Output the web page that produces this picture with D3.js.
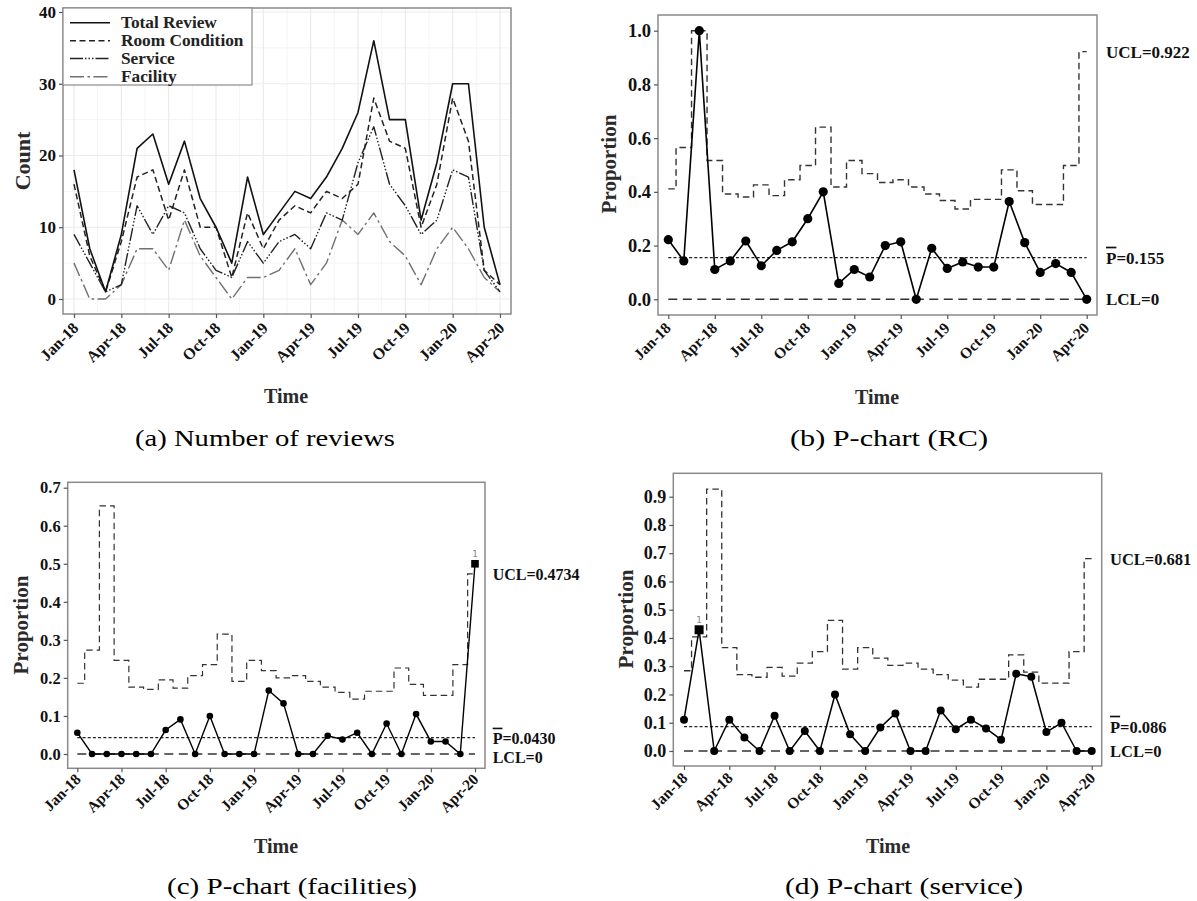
<!DOCTYPE html>
<html>
<head>
<meta charset="utf-8">
<script src="https://cdn.jsdelivr.net/npm/d3@7"></script>
<style>
  body { margin: 0; background: #fff; }
  svg { display: block; }
</style>
</head>
<body>
<svg id="fig" width="1197" height="901"></svg>
<script>
// ---------- data ----------
const months = ["Jan-18","Feb-18","Mar-18","Apr-18","May-18","Jun-18","Jul-18","Aug-18","Sep-18","Oct-18","Nov-18","Dec-18",
                "Jan-19","Feb-19","Mar-19","Apr-19","May-19","Jun-19","Jul-19","Aug-19","Sep-19","Oct-19","Nov-19","Dec-19",
                "Jan-20","Feb-20","Mar-20","Apr-20"];
const tickLabels = ["Jan-18","Apr-18","Jul-18","Oct-18","Jan-19","Apr-19","Jul-19","Oct-19","Jan-20","Apr-20"];

// monthly review counts
const totalReview   = [18,7,1,9,21,23,16,22,14,10,5,17,9,12,15,14,17,21,26,36,25,25,11,19,30,30,10,2];
const roomCondition = [16,6,1,8,17,18,11,18,10,10,3,12,7,11,13,12,15,14,16,28,22,21,10,16,28,22,4,2];
const serviceCount  = [9,5,1,2,13,9,13,12,7,4,3,8,5,8,9,7,12,11,19,24,16,13,9,11,18,17,4,1];
const facilityCount = [5,0,0,2,7,7,4,11,6,3,0,3,3,4,7,2,5,11,9,12,8,6,2,7,10,7,3,1];

// P-chart: room condition
const rcP   = [0.222,0.143,1.000,0.111,0.143,0.217,0.125,0.182,0.214,0.300,0.400,0.059,0.111,0.083,0.200,0.214,0.000,0.190,0.115,0.139,0.120,0.120,0.364,0.211,0.100,0.133,0.100,0.000];
const rcUCL = [0.411,0.565,1.000,0.517,0.392,0.381,0.426,0.386,0.445,0.498,0.641,0.418,0.517,0.468,0.435,0.445,0.418,0.392,0.368,0.336,0.372,0.372,0.482,0.404,0.353,0.353,0.498,0.922];
const rcCenter = 0.155;

// P-chart: facilities
const facP   = [0.056,0,0,0,0,0,0.063,0.091,0,0.100,0,0,0,0.167,0.133,0,0,0.048,0.038,0.056,0,0.080,0,0.105,0.033,0.033,0,0.500];
const facUCL = [0.186,0.273,0.652,0.246,0.176,0.170,0.195,0.173,0.206,0.235,0.315,0.191,0.246,0.219,0.200,0.206,0.191,0.176,0.162,0.144,0.165,0.165,0.226,0.183,0.154,0.154,0.235,0.4734];
const facCenter = 0.0430;

// P-chart: service
const svcP   = [0.111,0.429,0,0.111,0.048,0,0.125,0,0.071,0,0.200,0.059,0,0.083,0.133,0,0,0.143,0.077,0.111,0.080,0.040,0.273,0.263,0.067,0.100,0,0];
const svcUCL = [0.284,0.404,0.927,0.366,0.270,0.261,0.296,0.265,0.311,0.352,0.462,0.290,0.366,0.329,0.303,0.311,0.290,0.270,0.251,0.226,0.254,0.254,0.340,0.279,0.240,0.240,0.352,0.681];
const svcCenter = 0.086;

const tickIndex = tickLabels.map(t => months.indexOf(t));

// ---------- drawing ----------
const SERIF = `"Liberation Serif", "Times New Roman", serif`;
const svg = d3.select("#fig").attr("font-family", SERIF);
const FRAME = "#8a8a8a";

// Labels are meant to have Times Bold proportions. Lay out a probe in the SVG itself and,
// if the face that actually resolves is wider, squeeze every label back to that width.
const TIMES_PROBE_EM = 5.638;   // advance of "Total Review" in Times Bold, in em
const probe = svg.append("text").attr("font-weight", "bold").attr("font-size", 100)
  .attr("x", -2000).attr("y", -2000).text("Total Review");
const probeRatio = (TIMES_PROBE_EM * 100) / probe.node().getComputedTextLength();
probe.remove();
const SQUEEZE = probeRatio < 0.97 ? probeRatio : 1;

function drawFrame(g, b) {
  g.append("rect").attr("x", b.x0).attr("y", b.y0)
    .attr("width", b.x1 - b.x0).attr("height", b.y1 - b.y0)
    .attr("fill", "none").attr("stroke", FRAME).attr("stroke-width", 1.5);
}

function xAxis(g, x, b, fs, off) {
  const ax = g.append("g").attr("transform", `translate(0,${b.y1})`)
    .call(d3.axisBottom(x).tickValues(tickIndex).tickFormat((d, i) => tickLabels[i]).tickSize(4));
  ax.attr("font-family", null);
  ax.select(".domain").remove();
  ax.selectAll(".tick line").attr("stroke", "#555").attr("stroke-width", 1.2);
  ax.selectAll(".tick text")
    .attr("y", null).attr("dy", null)
    .attr("transform", `translate(${off[0]},${off[1]}) rotate(-45)`)
    .attr("text-anchor", "end")
    .attr("font-weight", "bold")
    .attr("font-size", fs).attr("fill", "#111");
}

function yAxis(g, y, b, ticks, fmt, fs) {
  const ax = g.append("g").attr("transform", `translate(${b.x0},0)`)
    .call(d3.axisLeft(y).tickValues(ticks).tickFormat(fmt).tickSize(4).tickPadding(3));
  ax.attr("font-family", null);
  ax.select(".domain").remove();
  ax.selectAll(".tick line").attr("stroke", "#555").attr("stroke-width", 1.2);
  ax.selectAll(".tick text")
    .attr("font-weight", "bold")
    .attr("font-size", fs).attr("fill", "#111");
}

function axisTitle(g, txt, x, y, fs, rotate) {
  g.append("text").attr("x", 0).attr("y", 0)
    .attr("transform", `translate(${x},${y})` + (rotate ? " rotate(-90)" : ""))
    .attr("text-anchor", "middle").attr("dominant-baseline", "central")
    .attr("font-weight", "bold").attr("font-size", fs).attr("fill", "#2b2b2b")
    .text(txt);
}

function caption(txt, x, y, w) {
  svg.append("text").attr("x", x).attr("y", y)
    .attr("text-anchor", "middle").attr("font-size", 23).attr("fill", "#000")
    .attr("textLength", w).attr("lengthAdjust", "spacingAndGlyphs")
    .text(txt);
}

// ---- (a) number of reviews ----
(function () {
  const b = { x0: 63, x1: 511, y0: 8, y1: 314 };
  const g = svg.append("g");
  const x = d3.scaleLinear().domain([0, 27]).range([74, 500]);
  const y = d3.scaleLinear().domain([0, 40]).range([299, 12]);

  // grid
  const minorY = [5, 15, 25, 35];
  const majorY = [0, 10, 20, 30, 40];
  const minorX = tickIndex.slice(0, -1).map(d => d + 1.5);
  g.selectAll(".gmy").data(minorY).join("line")
    .attr("x1", b.x0).attr("x2", b.x1).attr("y1", d => y(d)).attr("y2", d => y(d))
    .attr("stroke", "#f4f4f4").attr("stroke-width", 1);
  g.selectAll(".gmx").data(minorX).join("line")
    .attr("y1", b.y0).attr("y2", b.y1).attr("x1", d => x(d)).attr("x2", d => x(d))
    .attr("stroke", "#f4f4f4").attr("stroke-width", 1);
  g.selectAll(".gMy").data(majorY).join("line")
    .attr("x1", b.x0).attr("x2", b.x1).attr("y1", d => y(d)).attr("y2", d => y(d))
    .attr("stroke", "#ebebeb").attr("stroke-width", 1.2);
  g.selectAll(".gMx").data(tickIndex).join("line")
    .attr("y1", b.y0).attr("y2", b.y1).attr("x1", d => x(d)).attr("x2", d => x(d))
    .attr("stroke", "#ebebeb").attr("stroke-width", 1.2);

  const series = [
    { name: "Total Review",   data: totalReview,   color: "#111", dash: null,                     w: 1.6 },
    { name: "Room Condition", data: roomCondition, color: "#222", dash: "6,3.5",                  w: 1.5 },
    { name: "Service",        data: serviceCount,  color: "#222", dash: "13,2,1.5,2,1.5,2,1.5,2", w: 1.4 },
    { name: "Facility",       data: facilityCount, color: "#707070", dash: "14,3.5,2.5,3.5",      w: 1.4 }
  ];
  const line = d3.line().x((d, i) => x(i)).y(d => y(d));
  series.slice().reverse().forEach(s => {
    g.append("path").attr("d", line(s.data)).attr("fill", "none")
      .attr("stroke", s.color).attr("stroke-width", s.w)
      .attr("stroke-dasharray", s.dash).attr("stroke-linejoin", "round");
  });

  drawFrame(g, b);
  yAxis(g, y, b, majorY, d3.format("d"), 17);
  xAxis(g, x, b, 16, [5, 15]);

  // legend
  const lg = g.append("g");
  lg.append("rect").attr("x", 63).attr("y", 8).attr("width", 189).attr("height", 77)
    .attr("fill", "#fff").attr("stroke", FRAME).attr("stroke-width", 1.2);
  const rows = [22.7, 40.7, 58.5, 76.7];
  series.forEach((s, i) => {
    lg.append("line").attr("x1", 70).attr("x2", 110).attr("y1", rows[i]).attr("y2", rows[i])
      .attr("stroke", s.color).attr("stroke-width", s.w).attr("stroke-dasharray", s.dash);
    lg.append("text").attr("x", 121).attr("y", rows[i]).attr("dominant-baseline", "central")
      .attr("font-weight", "bold").attr("font-size", 17.3).attr("fill", "#222").text(s.name);
  });

  axisTitle(g, "Count", 22, 161, 22, true);
  axisTitle(g, "Time", 286, 396, 20, false);
})();

// ---- P-charts ----
function pchart(c) {
  const b = c.box;
  const g = svg.append("g");
  const x = d3.scaleLinear().domain([0, 27]).range(c.xr);
  const y = d3.scaleLinear().domain([0, c.ymaxTick]).range(c.yr);

  drawFrame(g, b);
  yAxis(g, y, b, c.yticks, d3.format(".1f"), c.tickFs);
  xAxis(g, x, b, 15.5, c.xoff);

  // upper control limit (stepped)
  g.append("path")
    .attr("d", d3.line().curve(d3.curveStep).x((d, i) => x(i)).y(d => y(d))(c.ucl))
    .attr("fill", "none").attr("stroke", "#333").attr("stroke-width", c.lw)
    .attr("stroke-dasharray", "6.5,4");
  // centre line
  g.append("line").attr("x1", x(0)).attr("x2", x(27)).attr("y1", y(c.center)).attr("y2", y(c.center))
    .attr("stroke", "#222").attr("stroke-width", c.lw).attr("stroke-dasharray", "3,2.2");
  // lower control limit
  g.append("line").attr("x1", x(0)).attr("x2", x(27)).attr("y1", y(0)).attr("y2", y(0))
    .attr("stroke", "#333").attr("stroke-width", c.lw + 0.2).attr("stroke-dasharray", "9,5.5");

  // proportions
  g.append("path").attr("d", d3.line().x((d, i) => x(i)).y(d => y(d))(c.p))
    .attr("fill", "none").attr("stroke", "#000").attr("stroke-width", c.lw + 0.2);
  const pts = c.p.map((v, i) => ({ i, v, out: v > c.ucl[i] }));
  g.selectAll(".dot").data(pts.filter(d => !d.out)).join("circle")
    .attr("cx", d => x(d.i)).attr("cy", d => y(d.v)).attr("r", c.r).attr("fill", "#000");
  const outs = pts.filter(d => d.out);
  g.selectAll(".sq").data(outs).join("rect")
    .attr("x", d => x(d.i) - c.r - 0.5).attr("y", d => y(d.v) - c.r - 0.5)
    .attr("width", 2 * c.r + 1).attr("height", 2 * c.r + 1).attr("fill", "#000");
  g.selectAll(".flag").data(outs).join("text")
    .attr("x", d => x(d.i)).attr("y", d => y(d.v) - c.r - 3)
    .attr("text-anchor", "middle").attr("font-size", 9).attr("fill", "#888")
    .attr("font-family", "DejaVu Sans, sans-serif").text("1");

  // limit labels
  const lab = (yy, parts) => {
    const t = g.append("text").attr("x", c.labX).attr("y", yy).attr("dominant-baseline", "central")
      .attr("font-weight", "bold").attr("font-size", c.labFs).attr("fill", "#111");
    parts.forEach(p => {
      const s = t.append("tspan").text(p.t);
      if (p.over) s.style("text-decoration", "overline");
    });
  };
  lab(y(c.ucl[27]) + (c.uclNudge || 0), [{ t: "UCL=" + c.uclText }]);
  lab(y(c.center) + (c.cNudge || 0), [{ t: "P", over: true }, { t: "=" + c.centerText }]);
  lab(y(0) + (c.lNudge || 0), [{ t: "LCL=0" }]);

  axisTitle(g, "Proportion", c.ylab[0], c.ylab[1], 21, true);
  axisTitle(g, "Time", c.tlab[0], c.tlab[1], 20, false);
}

pchart({
  box: { x0: 658, x1: 1097, y0: 15, y1: 315 },
  xr: [668.3, 1086.7], yr: [299.3, 30.7], ymaxTick: 1.0,
  yticks: [0, 0.2, 0.4, 0.6, 0.8, 1.0], tickFs: 18.5,
  xoff: [3, 14],
  p: rcP, ucl: rcUCL, center: rcCenter,
  uclText: "0.922", centerText: "0.155",
  lw: 1.4, r: 4.6, labX: 1106, labFs: 17,
  ylab: [609, 164], tlab: [877, 397]
});

pchart({
  box: { x0: 67.7, x1: 485, y0: 482.3, y1: 768.3 },
  xr: [77.3, 475], yr: [754, 487.7], ymaxTick: 0.7,
  yticks: [0, 0.1, 0.2, 0.3, 0.4, 0.5, 0.6, 0.7], tickFs: 16.5,
  xoff: [4, 12],
  p: facP, ucl: facUCL, center: facCenter,
  uclText: "0.4734", centerText: "0.0430",
  lw: 1.2, r: 3.3, labX: 492.7, labFs: 16, lNudge: 3,
  ylab: [21, 625], tlab: [276, 846]
});

pchart({
  box: { x0: 673.3, x1: 1101.7, y0: 473.3, y1: 766 },
  xr: [684, 1091.7], yr: [751, 496.7], ymaxTick: 0.9,
  yticks: [0, 0.1, 0.2, 0.3, 0.4, 0.5, 0.6, 0.7, 0.8, 0.9], tickFs: 18,
  xoff: [4, 13],
  p: svcP, ucl: svcUCL, center: svcCenter,
  uclText: "0.681", centerText: "0.086",
  lw: 1.3, r: 4, labX: 1110, labFs: 16.5,
  ylab: [626, 619], tlab: [888, 846]
});

// squeeze a wider fallback face back to Times proportions
if (SQUEEZE < 1) {
  svg.selectAll("text").filter(function () { return !this.hasAttribute("textLength"); })
    .each(function () {
      const len = this.getComputedTextLength();
      if (len > 0) d3.select(this).attr("textLength", len * SQUEEZE).attr("lengthAdjust", "spacingAndGlyphs");
    });
}

// sub-figure captions
caption("(a) Number of reviews", 265, 446, 260);
caption("(b) P-chart (RC)", 889, 446, 198);
caption("(c) P-chart (facilities)", 292, 894, 250);
caption("(d) P-chart (service)", 904, 894, 238);
</script>
</body>
</html>
